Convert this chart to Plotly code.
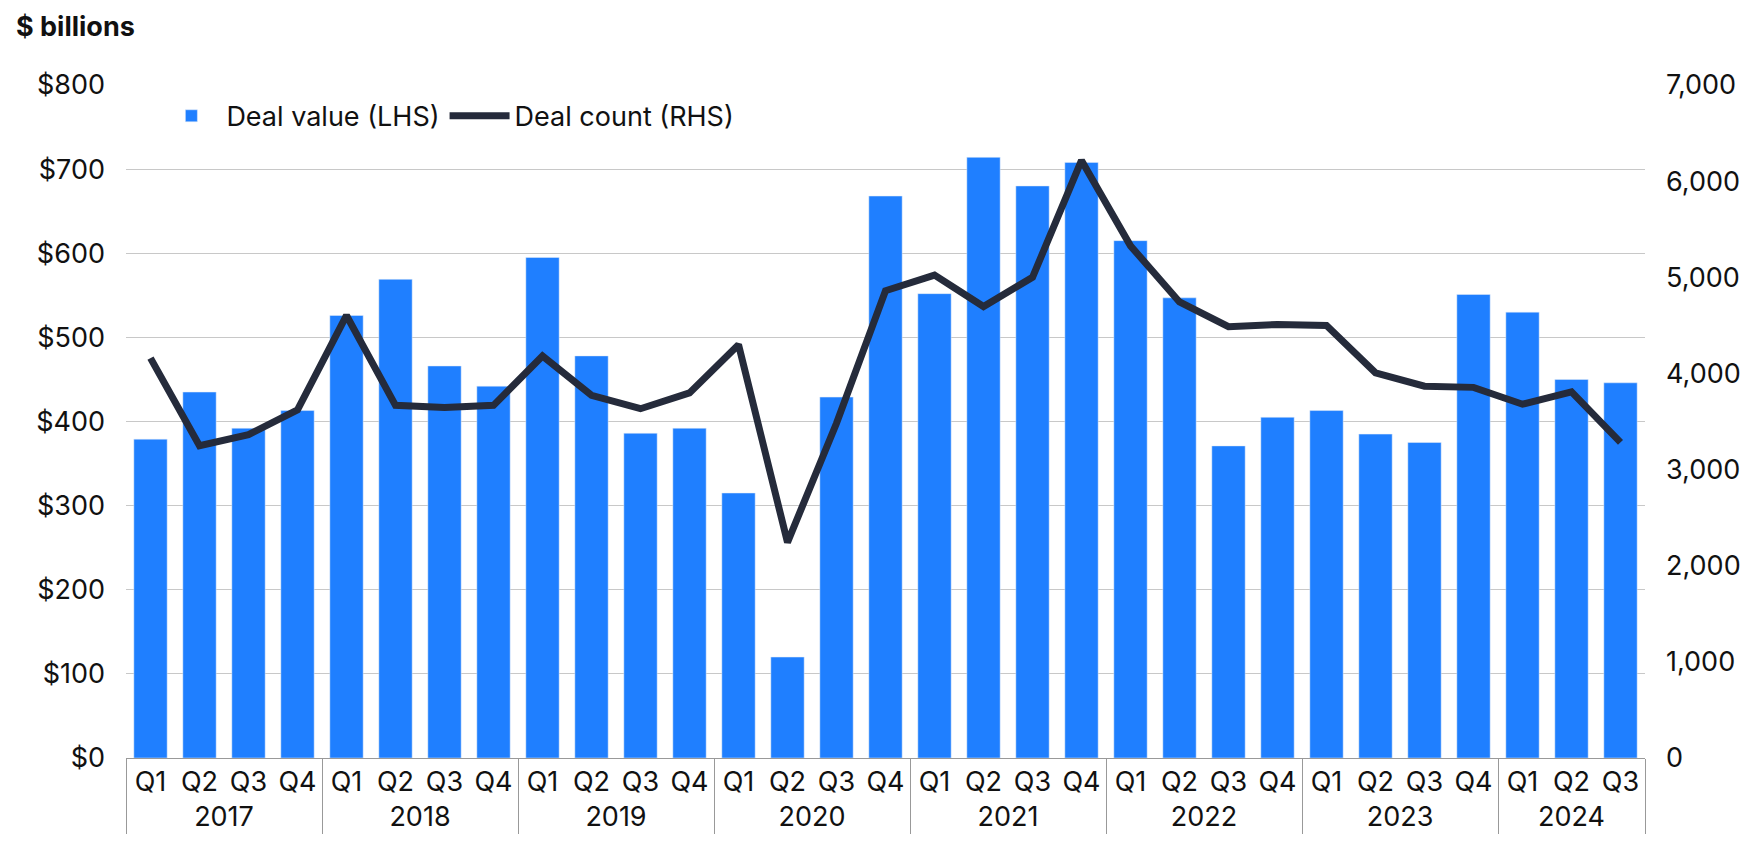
import plotly.graph_objects as go

years = ["2017"]*4 + ["2018"]*4 + ["2019"]*4 + ["2020"]*4 + ["2021"]*4 + ["2022"]*4 + ["2023"]*4 + ["2024"]*3
quarters = ["Q1","Q2","Q3","Q4"]*7 + ["Q1","Q2","Q3"]
deal_value = [379,435,392,413, 526,569,466,442, 595,478,386,392, 315,120,429,668,
              552,714,680,708, 615,547,371,405, 413,385,375,551, 530,450,446]
deal_count = [4159,3248,3364,3621, 4603,3668,3645,3668, 4182,3773,3633,3797, 4299,2243,3481,4860,
              5023,4696,5000,6215, 5327,4743,4486,4509, 4498,4007,3867,3855, 3680,3808,3283]

x = [years, quarters]
fig = go.Figure()
fig.add_trace(go.Bar(x=x, y=deal_value, name="Deal value (LHS)", marker_color="#1f7fff", width=0.68))
fig.add_trace(go.Scatter(x=x, y=deal_count, name="Deal count (RHS)", yaxis="y2", mode="lines",
                         line=dict(color="#252b3b", width=7)))
font = "Inter, Roboto, sans-serif"
fig.update_layout(
    width=1760, height=866, plot_bgcolor="white", paper_bgcolor="white",
    margin=dict(l=118, r=123, t=77, b=116),
    font=dict(family=font, size=27, color="#111"),
    bargap=0.32,
    showlegend=True,
    legend=dict(orientation="h", x=0.02, y=0.99, xanchor="left", yanchor="top", font=dict(size=27),
                bgcolor="rgba(0,0,0,0)", itemwidth=60),
    xaxis=dict(type="multicategory", showline=True, linecolor="#999", showdividers=True, dividercolor="#999",
               dividerwidth=1, tickfont=dict(size=27)),
    yaxis=dict(range=[0,800], dtick=100, tickprefix="$", gridcolor="#c8c8c8", zeroline=False, showline=False,
               ticklabelstandoff=20),
    yaxis2=dict(range=[0,7000], dtick=1000, overlaying="y", side="right", tickformat=",", showgrid=False,
                zeroline=False, ticklabelstandoff=20),
    annotations=[dict(text="<b>$ billions</b>", xref="paper", yref="paper", x=-0.074, y=1.06,
                      xanchor="left", yanchor="bottom", showarrow=False, font=dict(size=27))]
)
fig.write_html("out.html")
